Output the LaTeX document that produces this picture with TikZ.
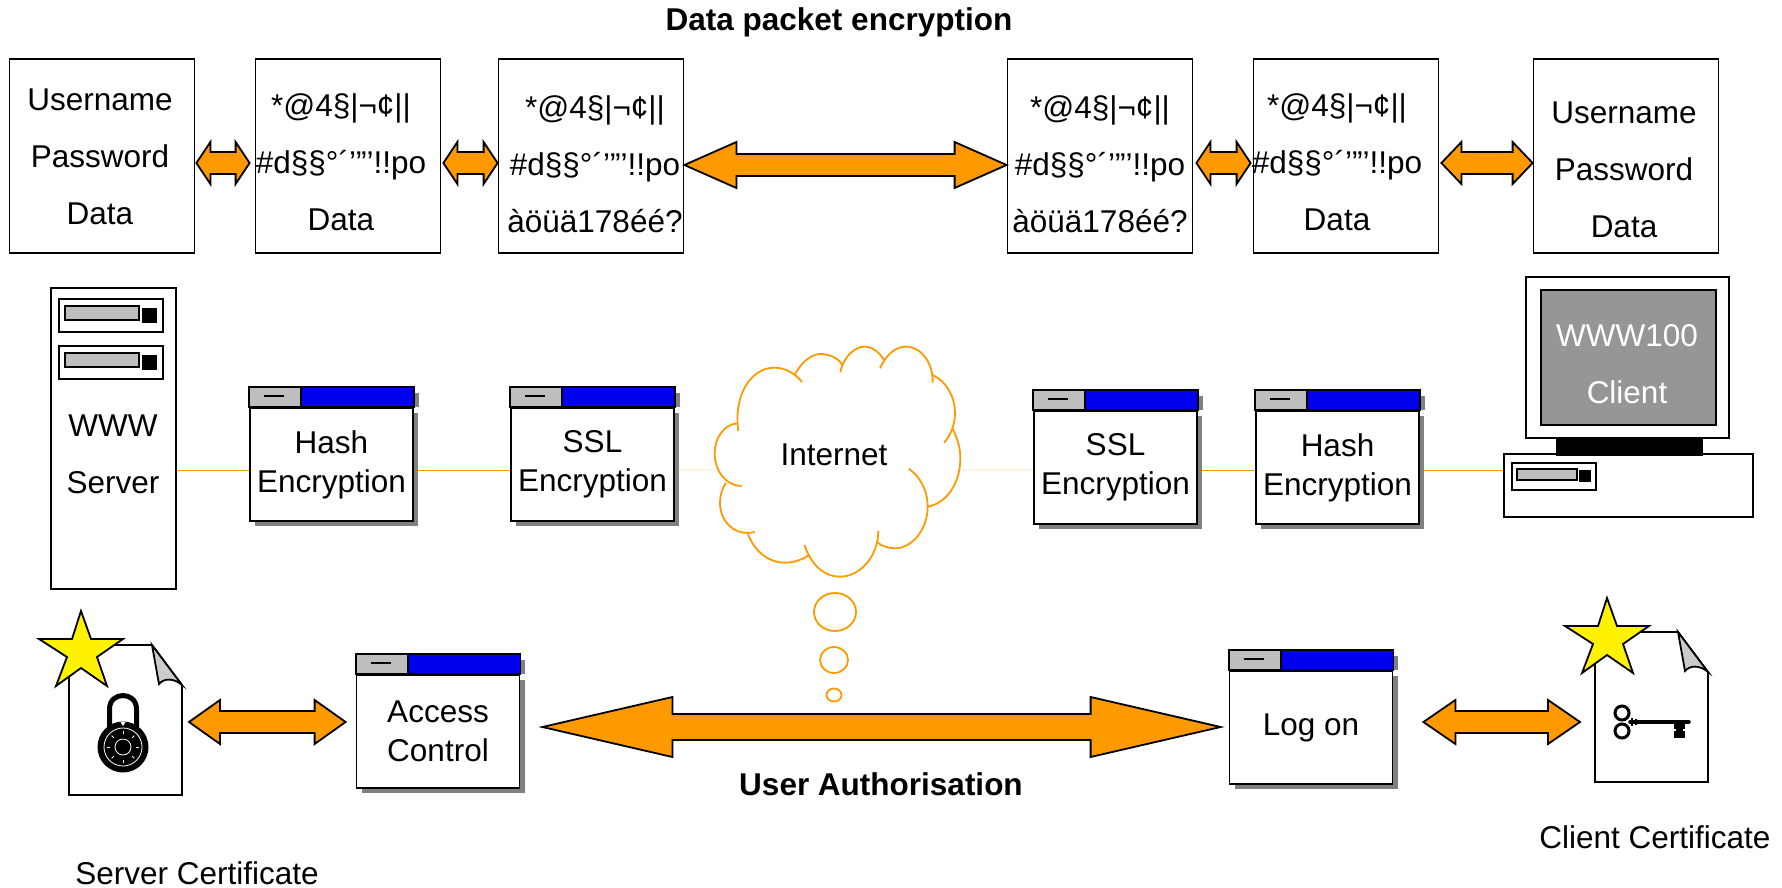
\documentclass[tikz,border=0pt]{standalone}
\usepackage{fontspec}
\setmainfont{Liberation Sans}
\usetikzlibrary{calc}
\usetikzlibrary{shadows}
\usetikzlibrary{backgrounds}
\definecolor{linkorange}{HTML}{FF9900}
\definecolor{barblue}{HTML}{0000F0}
\definecolor{panelgray}{HTML}{BEBEBE}
\definecolor{shadowgray}{HTML}{808080}
\definecolor{screengray}{HTML}{969696}
\tikzset{
    lbl/.style={font=\fontsize{31.5}{57}\selectfont, align=center, inner sep=0pt},
    title/.style={font=\fontsize{31.5}{38}\selectfont\bfseries, inner sep=0pt},
    databox/.style={draw, fill=white, inner sep=0pt, minimum width=185pt, minimum height=194pt},
    winbody/.style={draw, fill=white, inner sep=0pt, minimum width=163pt, minimum height=113pt,
        font=\fontsize{31.5}{39}\selectfont, align=center,
        drop shadow={shadow xshift=5pt, shadow yshift=-5pt, fill=shadowgray, opacity=1}},
    link/.style={draw=linkorange},
    blockstyle/.style={draw, fill=linkorange, miter limit=20},
    drive/.pic={
        \draw (0,0) rectangle (104,33);
        \draw[fill=panelgray] (6,7) rectangle (80,21);
        \fill (83,9) rectangle (98,24);
    },
    certdoc/.pic={
        \draw[fill=white] (0,0) -- (83,0) -- (113,40) -- (113,150) -- (0,150) -- cycle;
        \draw[fill=panelgray!80] (83,0) -- (90,39) .. controls (95,33) and (105,33) .. (113,40) -- cycle;
        \draw[fill=yellow] (12,-34) -- (22,-6) -- (54,-6) -- (28,12) -- (38,41) -- (12,23)
            -- (-13,41) -- (-2,12) -- (-30,-6) -- (3,-6) -- cycle;
    },
}
\newcommand{\blockarrow}[5]{
    \draw[blockstyle] let \p1=(#4), \p2=(#5) in
        (\x1,\y1) -- (\x1+#1pt,\y1+#2pt) -- (\x1+#1pt,\y1+#3pt) -- (\x2-#1pt,\y1+#3pt)
        -- (\x2-#1pt,\y1+#2pt) -- (\x2,\y1) -- (\x2-#1pt,\y1-#2pt) -- (\x2-#1pt,\y1-#3pt)
        -- (\x1+#1pt,\y1-#3pt) -- (\x1+#1pt,\y1-#2pt) -- cycle;
}
\newcommand{\winbar}[1]{
    \fill[shadowgray] ([yshift=14pt]#1.north east) rectangle ([xshift=5pt]#1.north east);
    \draw[fill=barblue] (#1.north west) rectangle ([yshift=20pt]#1.north east);
    \draw[fill=panelgray] (#1.north west) rectangle ([xshift=52pt,yshift=20pt]#1.north west);
    \draw ([xshift=15pt,yshift=11pt]#1.north west) -- ([xshift=35pt,yshift=11pt]#1.north west);
}
\begin{document}
\begin{tikzpicture}[x=1pt,y=-1pt,line width=1.8pt]
    \useasboundingbox (0,0) rectangle (1782,888);
    \coordinate (toprow) at (0,163);
    \coordinate (midrow) at (0,165);
    \coordinate (linkrow) at (0,470);
    \coordinate (lowrow) at (0,722);
    \coordinate (bigrow) at (0,727);

    \node[title] (packettitle) at (839,22) {Data packet encryption};
    \node[title] (authtitle) at (881,784) {User Authorisation};

    % data packets
    \node[databox] (box1) at (102,156) {};
    \node[databox] (box2) at (348,156) {};
    \node[databox] (box3) at (591,156) {};
    \node[databox] (box4) at (1100,156) {};
    \node[databox] (box5) at (1346,156) {};
    \node[databox] (box6) at (1626,156) {};
    \node[lbl] (text1) at (100,157) {Username\\Password\\Data};
    \node[lbl] (text2) at (341,162) {*@4§|¬¢||\\\#d§§°´’”'!!po\\Data};
    \node[lbl] (text3) at (595,164) {*@4§|¬¢||\\\#d§§°´’”'!!po\\àöüä178éé?};
    \node[lbl] (text4) at (1100,164) {*@4§|¬¢||\\\#d§§°´’”'!!po\\àöüä178éé?};
    \node[lbl] (text5) at (1337,162) {*@4§|¬¢||\\\#d§§°´’”'!!po\\Data};
    \node[lbl] (text6) at (1624,170) {Username\\Password\\Data};

    \blockarrow{14}{21}{11}{[xshift=1pt]box1.east |- toprow}{[xshift=-5pt]box2.west |- toprow}
    \blockarrow{14}{21}{11}{[xshift=2pt]box2.east |- toprow}{box3.west |- toprow}
    \blockarrow{52}{23}{11}{box3.east |- midrow}{box4.west |- midrow}
    \blockarrow{14}{21}{11}{[xshift=3pt]box4.east |- toprow}{[xshift=-2pt]box5.west |- toprow}
    \blockarrow{20}{21}{11}{[xshift=2pt]box5.east |- toprow}{box6.west |- toprow}

    % server
    \node[draw, fill=white, minimum width=125pt, minimum height=301pt, inner sep=0pt] (server) at (113.5,438.5) {};
    \pic at (59,299) {drive};
    \pic at (59,346) {drive};
    \node[lbl] (servertext) at (113,454) {WWW\\Server};

    % encryption windows
    \node[winbody] (hashl) at (331.5,464.5) {Hash\\Encryption};
    \node[winbody] (ssll) at (592.5,464.5) {SSL\\Encryption};
    \node[winbody] (sslr) at (1115.5,467.5) {SSL\\Encryption};
    \node[winbody] (hashr) at (1337.5,467.5) {Hash\\Encryption};
    \winbar{hashl}
    \winbar{ssll}
    \winbar{sslr}
    \winbar{hashr}

    % cloud
    \begin{scope}[shift={(680,320)},x=0.3333pt,y=-0.3333pt,draw=linkorange]
        \coordinate (cloudw) at (110,450);
        \coordinate (cloude) at (841,450);
        \draw (175,333) .. controls (160,230) and (210,143) .. (283,143) .. controls (315,143) and (345,160) .. (366,186);
        \draw (345,163) .. controls (365,125) and (395,102) .. (422,102) .. controls (450,102) and (475,115) .. (487,135);
        \draw (481,157) .. controls (490,110) and (525,80) .. (553,80) .. controls (580,80) and (600,100) .. (612,120);
        \draw (600,145) .. controls (620,100) and (650,80) .. (677,80) .. controls (725,80) and (760,130) .. (758,188);
        \draw (758,165) .. controls (800,185) and (825,230) .. (825,280) .. controls (825,315) and (810,350) .. (792,368);
        \draw (817,325) .. controls (833,355) and (841,385) .. (841,415) .. controls (841,490) and (800,550) .. (743,560);
        \draw (686,446) .. controls (720,470) and (743,510) .. (743,560) .. controls (743,630) and (695,685) .. (645,685) .. controls (625,685) and (605,678) .. (593,668);
        \draw (595,632) .. controls (595,710) and (540,770) .. (480,770) .. controls (430,770) and (390,730) .. (374,675);
        \draw (388,705) .. controls (365,720) and (340,728) .. (315,728) .. controls (265,728) and (225,695) .. (204,643);
        \draw (224,636) .. controls (170,650) and (120,610) .. (120,548) .. controls (120,525) and (127,505) .. (138,488);
        \draw (185,498) .. controls (140,498) and (104,455) .. (104,400) .. controls (104,355) and (130,315) .. (170,310);
    \end{scope}
    \node[lbl] (internet) at (834,455) {Internet};
    \draw[link] (835,612) ellipse [x radius=21pt, y radius=19pt];
    \draw[link] (834,660) ellipse [x radius=14pt, y radius=13pt];
    \draw[link] (834,695) ellipse [x radius=7.5pt, y radius=6.5pt];

    % client computer
    \node[draw, fill=white, minimum width=249pt, minimum height=63pt, inner sep=0pt] (client) at (1628.5,485.5) {};
    \pic[scale=0.81] at (1512,463) {drive};
    \fill (1556,438) rectangle (1703,456);
    \draw[fill=white] (1526,277) rectangle (1729,438);
    \draw[fill=screengray] (1541,290) rectangle (1716,425);
    \node[lbl, text=white] (clienttext) at (1627,364) {WWW100\\Client};

    \begin{scope}[on background layer]
        \draw[link] (server.east |- linkrow) -- (hashl.west |- linkrow);
        \draw[link] (hashl.east |- linkrow) -- (ssll.west |- linkrow);
        \draw[link] (ssll.east |- linkrow) -- (cloudw);
        \draw[link] (cloude) -- (sslr.west |- linkrow);
        \draw[link] (sslr.east |- linkrow) -- (hashr.west |- linkrow);
        \draw[link] (hashr.east |- linkrow) -- (client.west |- linkrow);
    \end{scope}

    % authorisation row
    \node[winbody] (access) at (438,731.5) {Access\\Control};
    \node[winbody] (logon) at (1311,727.5) {Log on};
    \winbar{access}
    \winbar{logon}

    \pic at (69,645) {certdoc};
    \pic at (1595,632) {certdoc};
    \coordinate (servercert) at (182,722);
    \coordinate (clientcert) at (1595,722);
    \node[lbl] (servercerttext) at (197,873) {Server Certificate};
    \node[lbl] (clientcerttext) at (1655,837) {Client Certificate};

    \blockarrow{31}{22}{11}{[xshift=7pt]servercert |- lowrow}{[xshift=-10pt]access.west |- lowrow}
    \blockarrow{130}{30}{13}{[xshift=22pt]access.east |- bigrow}{[xshift=-8pt]logon.west |- bigrow}
    \blockarrow{32}{22}{11}{[xshift=30pt]logon.east |- lowrow}{[xshift=-15pt]clientcert |- lowrow}

    % padlock
    \begin{scope}[shift={(123,747)}]
        \draw[line width=5pt] (-13.5,-20) -- (-13.5,-38) .. controls (-13.5,-56) and (13.5,-56) .. (13.5,-38) -- (13.5,-20);
        \fill (0,0) circle [radius=25.5pt];
        \draw[white, line width=0.8pt] (0,0) circle [radius=19pt];
        \draw[white, line width=0.8pt] (0,0) circle [radius=8pt];
        \foreach \a in {0,45,...,315} {
            \draw[white, line width=0.8pt] (\a:13) -- (\a:16);
        }
        \fill[white] (-2.5,-25) -- (2.5,-25) -- (0,-21) -- cycle;
    \end{scope}

    % key
    \begin{scope}[shift={(1622,722)}]
        \draw[line width=3pt] (0,-9) circle [radius=7pt];
        \draw[line width=3pt] (0,9) circle [radius=7pt];
        \draw[line width=3.5pt, line cap=round] (8,0) -- (67,0);
        \draw[line width=2pt] (10,-4) -- (10,4);
        \draw[line width=2pt] (14,-3) -- (14,3);
        \fill (52,0) rectangle (63,16);
        \fill[white] (52,7) rectangle (54,9);
        \fill[white] (61,7) rectangle (63,9);
    \end{scope}
\end{tikzpicture}
\end{document}
